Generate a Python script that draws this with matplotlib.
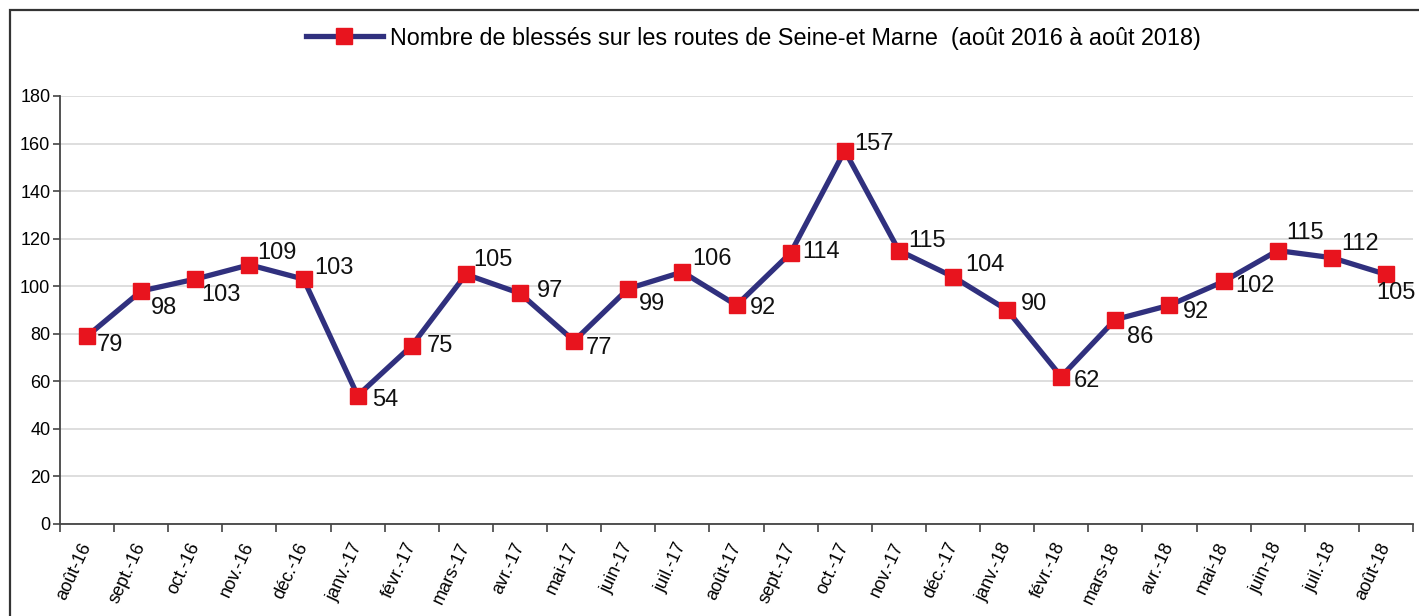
import matplotlib
matplotlib.use("Agg")
import matplotlib.pyplot as plt
from matplotlib.patches import Rectangle
import numpy as np

plt.rcParams["font.family"] = ["Liberation Sans", "DejaVu Sans"]

# === DONNÉES ===
mois = ["août-16", "sept.-16", "oct.-16", "nov.-16", "déc.-16", "janv.-17",
        "févr.-17", "mars-17", "avr.-17", "mai-17", "juin-17", "juil.-17",
        "août-17", "sept.-17", "oct.-17", "nov.-17", "déc.-17", "janv.-18",
        "févr.-18", "mars-18", "avr.-18", "mai-18", "juin-18", "juil.-18",
        "août-18"]
blesses = [79, 98, 103, 109, 103, 54, 75, 105, 97, 77, 99, 106,
           92, 114, 157, 115, 104, 90, 62, 86, 92, 102, 115, 112, 105]
titre_serie = "Nombre de blessés sur les routes de Seine-et Marne  (août 2016 à août 2018)"

# décalage des étiquettes (pixels, bord gauche / centre vertical)
label_dx = [10, 10, 6, 8, 11, 14, 15, 7, 17, 12, 11, 10,
            13, 12, 10, 9, 12, 14, 13, 12, 13, 12, 9, 9, -10]
label_dy = [-9, -17, -16, 12, 11, -4, 0, 14, 2, -7, -15, 13,
            -3, 1, 7, 10, 12, 6, -4, -17, -7, -5, 18, 14, -19]

NAVY = "#30307E"
RED = "#E8141E"

fig = plt.figure(figsize=(14.19, 6.16), dpi=100)
ax = fig.add_axes([60 / 1419, 1 - 524 / 616, 1353 / 1419, 428 / 616])

x = np.arange(len(mois))
line, = ax.plot(x, blesses, "-s", color=NAVY, lw=3.8, markersize=12,
                markerfacecolor=RED, markeredgecolor=RED, zorder=3,
                label=titre_serie)

for xi, v, dx, dy in zip(x, blesses, label_dx, label_dy):
    ax.annotate(str(v), (xi, v), xytext=(dx, dy), textcoords="offset pixels",
                ha="left", va="center", fontsize=17, color="#111111",
                zorder=4, annotation_clip=False)

# --- axes ---
ax.set_xlim(-0.5, len(mois) - 0.5)
ax.set_ylim(0, 180)
ax.set_yticks(np.arange(0, 181, 20))
ax.grid(axis="y", color="#d4d4d4", lw=1.1)
ax.set_axisbelow(True)

ax.set_xticks(x)
ax.set_xticklabels(mois, rotation=65, ha="right", va="center",
                   rotation_mode="anchor", fontsize=13)
ax.tick_params(axis="x", which="major", length=0, pad=14)
ax.set_xticks(np.arange(-0.5, len(mois)), minor=True)
ax.tick_params(axis="x", which="minor", length=6, width=1.2, color="#444444")
ax.tick_params(axis="y", length=5, width=1.2, color="#444444", labelsize=13, pad=2)

for s in ["top", "right"]:
    ax.spines[s].set_visible(False)
for s in ["left", "bottom"]:
    ax.spines[s].set_color("#444444")
    ax.spines[s].set_linewidth(1.3)

# --- légende ---
fig.legend(handles=[line], loc="center", bbox_to_anchor=(753 / 1419, 1 - 38 / 616),
           frameon=False, fontsize=16.8, handlelength=3.3, handletextpad=0.3,
           borderpad=0)

# --- cadre ---
top = 1 - 10 / 616
fig.patches.append(Rectangle((10 / 1419, -0.2), 1.2, top + 0.2,
                             transform=fig.transFigure, fill=False,
                             edgecolor="#333333", lw=1.6))

fig.savefig("out.png", dpi=100)
